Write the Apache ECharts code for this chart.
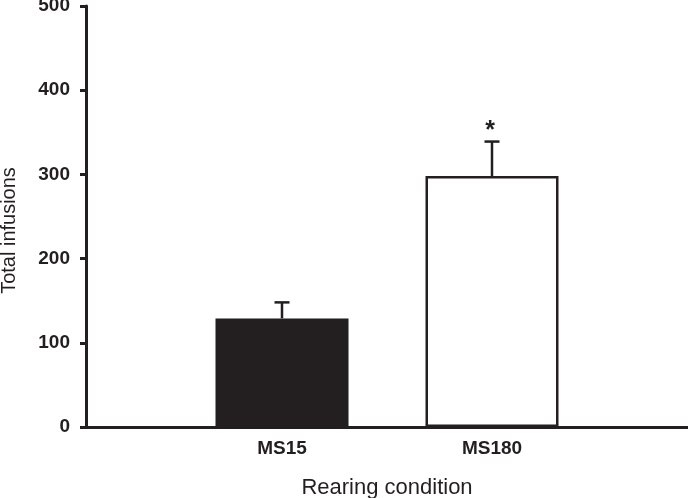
<!DOCTYPE html>
<html>
<head>
<meta charset="utf-8">
<script src="https://cdn.jsdelivr.net/npm/echarts@6/dist/echarts.min.js"></script>
<style>
  html, body { margin: 0; padding: 0; background: #fff; }
  #main { width: 688px; height: 498px; }
</style>
</head>
<body>
<div id="main"></div>
<script>
// rearing condition groups
var groups = ['MS15', 'MS180'];
var means = [129, 298];
var errTop = [148, 339];
var marks = ['', '*'];
var yTicks = [0, 100, 200, 300, 400, 500];

var ink = '#231f20';
var font = '"Liberation Sans", Arial, sans-serif';

var barData = [
  { value: means[0], itemStyle: { color: ink, borderColor: ink, borderWidth: 0 } },
  { value: means[1], itemStyle: { color: '#fff', borderColor: ink, borderWidth: 2.5 } }
];
var errData = groups.map(function (g, i) { return [i, means[i], errTop[i], marks[i]]; });

var chart = echarts.init(document.getElementById('main'));
var option = {
  animation: false,
  grid: [
    { left: 177, right: 91, top: 6, bottom: 71, outerBoundsMode: 'none', containLabel: false },
    { left: 86, right: 0, top: 6, bottom: 71, outerBoundsMode: 'none', containLabel: false }
  ],
  xAxis: [
    {
      type: 'category',
      gridIndex: 0,
      data: groups,
      axisLine: { show: false },
      axisTick: { show: false },
      axisLabel: { color: ink, fontFamily: font, fontWeight: 'bold', fontSize: 19, margin: 12 },
      name: 'Rearing condition',
      nameLocation: 'middle',
      nameGap: 50,
      nameTextStyle: { color: ink, fontFamily: font, fontSize: 22 }
    },
    {
      type: 'value',
      gridIndex: 1,
      min: 0,
      max: 1,
      axisLine: { show: true, lineStyle: { color: ink, width: 3 } },
      axisTick: { show: false },
      axisLabel: { show: false },
      splitLine: { show: false }
    }
  ],
  yAxis: [
    {
      type: 'value',
      gridIndex: 0,
      min: yTicks[0],
      max: yTicks[yTicks.length - 1],
      interval: 100,
      offset: 91,
      axisLine: { show: true, lineStyle: { color: ink, width: 3 } },
      axisTick: { show: true, length: 6, lineStyle: { color: ink, width: 3 } },
      axisLabel: { color: ink, fontFamily: font, fontWeight: 'bold', fontSize: 19, margin: 16 },
      splitLine: { show: false },
      name: 'Total infusions',
      nameLocation: 'middle',
      nameGap: 67,
      nameTextStyle: { color: ink, fontFamily: font, fontSize: 20, padding: [0, 28, 0, 0] }
    },
    {
      type: 'value',
      gridIndex: 1,
      min: 0,
      max: 1,
      show: false
    }
  ],
  series: [
    {
      type: 'bar',
      xAxisIndex: 0,
      yAxisIndex: 0,
      barWidth: 133,
      data: barData,
      z: 2
    },
    {
      type: 'custom',
      xAxisIndex: 0,
      yAxisIndex: 0,
      data: errData,
      z: 3,
      renderItem: function (params, api) {
        var lo = api.coord([api.value(0), api.value(1)]);
        var hi = api.coord([api.value(0), api.value(2)]);
        var half = 7.5;
        var st = { stroke: ink, lineWidth: 2.5 };
        var mark = errData[params.dataIndex][3];
        return {
          type: 'group',
          children: [
            { type: 'line', shape: { x1: lo[0], y1: lo[1], x2: hi[0], y2: hi[1] }, style: st },
            { type: 'line', shape: { x1: hi[0] - half, y1: hi[1], x2: hi[0] + half, y2: hi[1] }, style: st },
            {
              type: 'text',
              style: {
                text: mark, x: hi[0] - 2, y: hi[1] - 10,
                fill: ink, font: 'bold 25px ' + font,
                textAlign: 'center', textVerticalAlign: 'middle'
              }
            }
          ]
        };
      }
    }
  ]
};
chart.setOption(option);
</script>
</body>
</html>
